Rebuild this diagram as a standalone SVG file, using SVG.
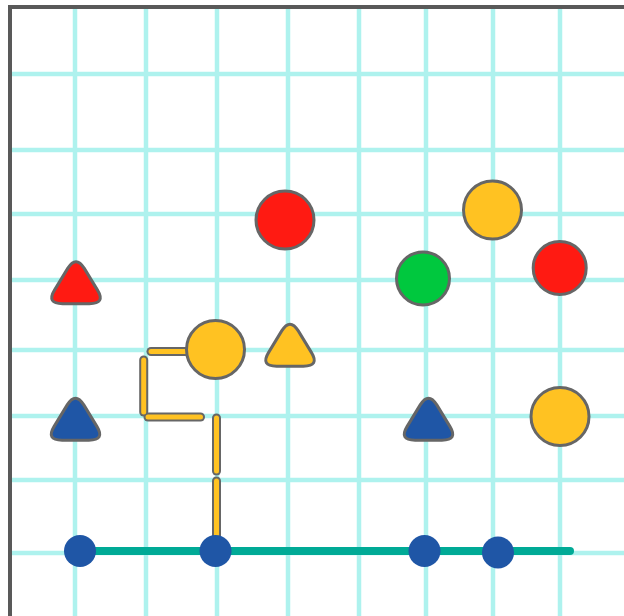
<svg xmlns="http://www.w3.org/2000/svg" width="624" height="616" viewBox="0 0 624 616">
<style>
.grid line{stroke:#aef2ee;stroke-width:4.5}
.node{stroke:#666;stroke-width:3}
.red{fill:#ff1a12}.yel{fill:#ffc222}.grn{fill:#00c83e}.blu{fill:#1f56a6}
.dot{fill:#1f56a6}
.dash-o{stroke:#666;stroke-width:9;stroke-linecap:round;fill:none}
.dash-i{stroke:#ffc222;stroke-width:5;stroke-linecap:round;fill:none}
</style>
<defs>
<path id="tri" d="M8.3,-14.1 L21.5,7.6 Q29.8,21.2 13.4,21.2 L-13.4,21.2 Q-29.8,21.2 -21.5,7.6 L-8.3,-14.1 Q0,-27.6 8.3,-14.1 Z"/>
</defs>
<rect width="624" height="616" fill="#fff"/>
<g class="grid">
<line x1="75" y1="7" x2="75" y2="616"/>
<line x1="146" y1="7" x2="146" y2="616"/>
<line x1="217" y1="7" x2="217" y2="616"/>
<line x1="288" y1="7" x2="288" y2="616"/>
<line x1="359" y1="7" x2="359" y2="616"/>
<line x1="426" y1="7" x2="426" y2="616"/>
<line x1="493" y1="7" x2="493" y2="616"/>
<line x1="560" y1="7" x2="560" y2="616"/>
<line x1="10" y1="74" x2="624" y2="74"/>
<line x1="10" y1="150" x2="624" y2="150"/>
<line x1="10" y1="214" x2="624" y2="214"/>
<line x1="10" y1="280" x2="624" y2="280"/>
<line x1="10" y1="350" x2="624" y2="350"/>
<line x1="10" y1="416" x2="624" y2="416"/>
<line x1="10" y1="480" x2="624" y2="480"/>
<line x1="10" y1="553" x2="624" y2="553"/>
</g>
<path d="M10,616 L10,7 L624,7" fill="none" stroke="#595959" stroke-width="4"/>
<g id="connectors">
<line x1="80" y1="551" x2="570" y2="551" stroke="#00aa96" stroke-width="8" stroke-linecap="round"/>
<g id="yellow-path">
<line class="dash-o" x1="216.5" y1="481" x2="216.5" y2="545"/>
<line class="dash-o" x1="216.5" y1="418" x2="216.5" y2="471"/>
<line class="dash-o" x1="148" y1="417" x2="200.5" y2="417"/>
<line class="dash-o" x1="143.7" y1="360" x2="143.7" y2="412"/>
<line class="dash-o" x1="151" y1="351.5" x2="195" y2="351.5"/>
<line class="dash-i" x1="216.5" y1="481" x2="216.5" y2="545"/>
<line class="dash-i" x1="216.5" y1="418" x2="216.5" y2="471"/>
<line class="dash-i" x1="148" y1="417" x2="200.5" y2="417"/>
<line class="dash-i" x1="143.7" y1="360" x2="143.7" y2="412"/>
<line class="dash-i" x1="151" y1="351.5" x2="195" y2="351.5"/>
</g>
</g>
<g id="red-circle-1"><circle class="node red" cx="285" cy="220" r="29"/></g>
<g id="yellow-circle-1"><circle class="node yel" cx="492.5" cy="210" r="29"/></g>
<g id="green-circle"><circle class="node grn" cx="423" cy="278.5" r="26.5"/></g>
<g id="red-circle-2"><circle class="node red" cx="559.7" cy="268" r="26.5"/></g>
<g id="yellow-circle-2"><circle class="node yel" cx="215.5" cy="349.5" r="29"/></g>
<g id="yellow-circle-3"><circle class="node yel" cx="560" cy="416.5" r="29"/></g>
<g id="red-triangle"><use href="#tri" class="node red" transform="translate(76,282.5)"/></g>
<g id="yellow-triangle"><use href="#tri" class="node yel" transform="translate(290,345)"/></g>
<g id="blue-triangle-1"><use href="#tri" class="node blu" transform="translate(75.5,419)"/></g>
<g id="blue-triangle-2"><use href="#tri" class="node blu" transform="translate(428.5,419)"/></g>
<g id="dot-1"><circle class="dot" cx="80" cy="551" r="16"/></g>
<g id="dot-2"><circle class="dot" cx="215.5" cy="551" r="16"/></g>
<g id="dot-3"><circle class="dot" cx="424.5" cy="551" r="16"/></g>
<g id="dot-4"><circle class="dot" cx="498" cy="552.5" r="16"/></g>
</svg>
